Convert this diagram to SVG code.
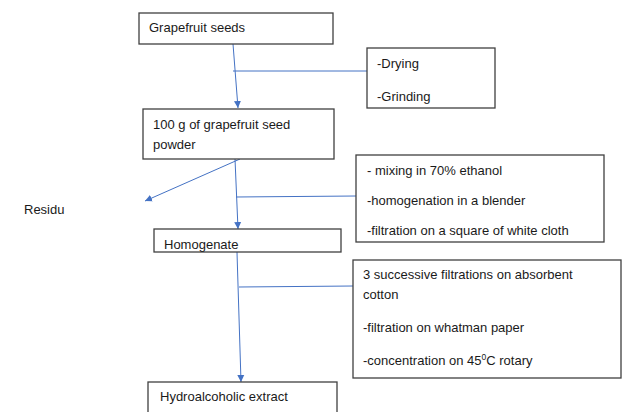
<svg xmlns="http://www.w3.org/2000/svg" width="622" height="412" viewBox="0 0 622 412">
<defs>
<marker id="ah" markerWidth="8" markerHeight="8" refX="7" refY="4" orient="auto" markerUnits="userSpaceOnUse">
<path d="M0,0.5 L7,4 L0,7.5 Z" fill="#4472C4"/>
</marker>
<style>
.box{fill:#fff;stroke:#404040;stroke-width:1.3}
.t{font-family:"Liberation Sans",Arial,sans-serif;font-size:13px;fill:#1a1a1a}
.c{stroke:#4472C4;stroke-width:1;fill:none}
.a{marker-end:url(#ah)}
</style>
</defs>
<rect width="622" height="412" fill="#fff"/>
<g id="connectors">
<line class="c a" x1="233" y1="44" x2="238" y2="108"/>
<line class="c" x1="233" y1="71" x2="367" y2="71"/>
<line class="c a" x1="235" y1="159" x2="238" y2="229"/>
<line class="c a" x1="240" y1="159" x2="145" y2="201"/>
<line class="c" x1="236" y1="197" x2="356" y2="196"/>
<line class="c a" x1="237" y1="252" x2="241" y2="382"/>
<line class="c" x1="239" y1="287" x2="353" y2="286"/>
</g>
<g id="n1"><rect class="box" x="139" y="13" width="194" height="31"/><text class="t" x="149" y="32">Grapefruit seeds</text></g>
<g id="n2"><rect class="box" x="367" y="48" width="128" height="60"/><text class="t" x="377" y="68">-Drying</text><text class="t" x="377" y="101">-Grinding</text></g>
<g id="n3"><rect class="box" x="143" y="109" width="191" height="50"/><text class="t" x="153" y="129">100 g of grapefruit seed</text><text class="t" x="153" y="149">powder</text></g>
<g id="n4"><text class="t" x="24" y="214">Residu</text></g>
<g id="n5"><rect class="box" x="356" y="155" width="248" height="87"/><text class="t" x="367" y="175">- mixing in 70% ethanol</text><text class="t" x="367" y="205">-homogenation in a blender</text><text class="t" x="367" y="235">-filtration on a square of white cloth</text></g>
<g id="n6"><rect class="box" x="154" y="229" width="187" height="23"/><text class="t" x="164" y="249">Homogenate</text></g>
<g id="n7"><rect class="box" x="353" y="260" width="268" height="118"/><text class="t" x="363" y="279">3 successive filtrations on absorbent</text><text class="t" x="363" y="299">cotton</text><text class="t" x="363" y="332">-filtration on whatman paper</text><text class="t" x="363" y="365">-concentration on 45<tspan dy="-5" font-size="8.5">0</tspan><tspan dy="5">C rotary</tspan></text></g>
<g id="n8"><rect class="box" x="148" y="382" width="189" height="40"/><text class="t" x="160" y="401">Hydroalcoholic extract</text></g>
</svg>
